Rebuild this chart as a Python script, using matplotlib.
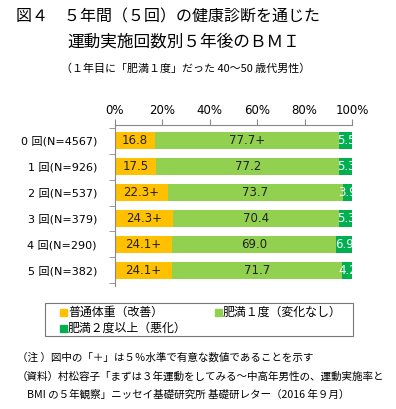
import matplotlib
matplotlib.use("Agg")
import matplotlib.pyplot as plt
from matplotlib.patches import Rectangle
import numpy as np

plt.rcParams['font.family'] = ['DejaVu Sans', 'Noto Sans CJK JP']
JP = ['Noto Sans CJK JP', 'DejaVu Sans']

categories = ["0 回(N=4567)", "1 回(N=926)", "2 回(N=537)",
              "3 回(N=379)", "4 回(N=290)", "5 回(N=382)"]
normal = [16.8, 17.5, 22.3, 24.3, 24.1, 24.1]
obese1 = [77.7, 77.2, 73.7, 70.4, 69.0, 71.7]
obese2 = [5.5, 5.3, 3.9, 5.3, 6.9, 4.2]
normal_labels = ["16.8", "17.5", "22.3+", "24.3+", "24.1+", "24.1+"]
obese1_labels = ["77.7+", "77.2", "73.7", "70.4", "69.0", "71.7"]
obese2_labels = ["5.5", "5.3", "3.9", "5.3", "6.9", "4.2"]
series_names = ["普通体重（改善）", "肥満１度（変化なし）", "肥満２度以上（悪化）"]
xticks = [0, 20, 40, 60, 80, 100]

c_normal = "#FFC000"
c_ob1 = "#92D050"
c_ob2 = "#00B050"

fig = plt.figure(figsize=(3.96, 4.09), dpi=100)
ax = fig.add_axes([0.2904, 0.3007, 0.5985, 0.3937])

y = np.arange(len(categories))
h = 0.66
ax.barh(y, normal, height=h, color=c_normal)
ax.barh(y, obese1, left=normal, height=h, color=c_ob1)
left2 = np.array(normal) + np.array(obese1)
ax.barh(y, obese2, left=left2, height=h, color=c_ob2)

for i in range(len(categories)):
    ax.text(normal[i] / 2, y[i], normal_labels[i], ha="center", va="center",
            fontsize=8.5, color="#222222")
    ax.text(normal[i] + obese1[i] / 2, y[i], obese1_labels[i], ha="center",
            va="center", fontsize=8.5, color="#222222")
    ax.text(left2[i] + obese2[i] / 2 + 0.3, y[i], obese2_labels[i], ha="center",
            va="center", fontsize=8.5, color="white", clip_on=True)

ax.set_xlim(0, 100)
ax.set_ylim(len(categories) - 0.4, -0.6)
ax.xaxis.tick_top()
ax.set_xticks(xticks)
ax.set_xticklabels([f"{v}%" for v in xticks], fontsize=8.5)
ax.tick_params(axis="x", direction="out", length=4, color="#888888", pad=2)

ax.set_yticks(y)
ax.set_yticklabels(categories, fontsize=8)
ax.tick_params(axis="y", which="major", length=0, pad=13)
ax.set_yticks(np.arange(len(categories) + 1) - 0.5, minor=True)
ax.tick_params(axis="y", which="minor", direction="out", length=4, color="#888888")

for s in ["right", "bottom"]:
    ax.spines[s].set_visible(False)
for s in ["top", "left"]:
    ax.spines[s].set_color("#888888")
    ax.spines[s].set_linewidth(0.8)

# title block
fig.text(16 / 396, 1 - 17 / 409, "図４　５年間（５回）の健康診断を通じた",
         fontsize=11.5, va="center", ha="left", family=JP)
fig.text(67 / 396, 1 - 42 / 409, "運動実施回数別５年後のＢＭＩ",
         fontsize=12, va="center", ha="left", family=JP)
fig.text(61 / 396, 1 - 69 / 409, "（１年目に「肥満１度」だった 40～50 歳代男性）",
         fontsize=7.9, va="center", ha="left", family=JP)

# legend box drawn by hand to match the wide frame
fig.patches.append(Rectangle((45 / 396, 1 - 336 / 409), 308 / 396, 33 / 409,
                             transform=fig.transFigure, fill=False,
                             edgecolor="#777777", linewidth=0.8))
legend_items = [(series_names[0], c_normal, 60, 312),
                (series_names[1], c_ob1, 215, 312),
                (series_names[2], c_ob2, 60, 328)]
for name, color, lx, ly in legend_items:
    fig.patches.append(Rectangle((lx / 396, 1 - (ly + 3.5) / 409), 7 / 396, 7 / 409,
                                 transform=fig.transFigure, color=color))
    fig.text((lx + 8) / 396, 1 - ly / 409, name, fontsize=8.6, va="center",
             ha="left", family=JP)

# notes
fig.text(17 / 396, 1 - 358 / 409, "（注 ）図中の「＋」は５％水準で有意な数値であることを示す",
         fontsize=7.6, va="center", ha="left", family=JP)
fig.text(17 / 396, 1 - 377 / 409,
         "（資料）村松容子「まずは３年運動をしてみる～中高年男性の、運動実施率と",
         fontsize=7.6, va="center", ha="left", family=JP)
fig.text(27 / 396, 1 - 395 / 409,
         "BMI の５年観察」ニッセイ基礎研究所 基礎研レター（2016 年９月）",
         fontsize=7.6, va="center", ha="left", family=JP)

fig.savefig("out.png", dpi=100)
